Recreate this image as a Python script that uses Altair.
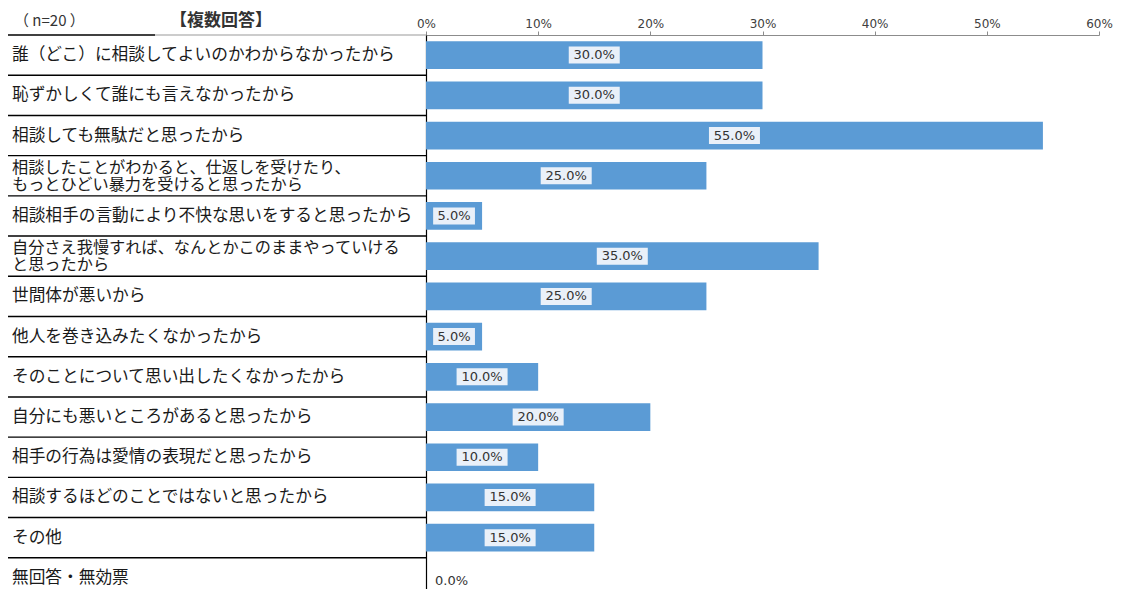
import altair as alt
import pandas as pd

categories = [
    "誰（どこ）に相談してよいのかわからなかったから",
    "恥ずかしくて誰にも言えなかったから",
    "相談しても無駄だと思ったから",
    "相談したことがわかると、仕返しを受けたり、\nもっとひどい暴力を受けると思ったから",
    "相談相手の言動により不快な思いをすると思ったから",
    "自分さえ我慢すれば、なんとかこのままやっていける\nと思ったから",
    "世間体が悪いから",
    "他人を巻き込みたくなかったから",
    "そのことについて思い出したくなかったから",
    "自分にも悪いところがあると思ったから",
    "相手の行為は愛情の表現だと思ったから",
    "相談するほどのことではないと思ったから",
    "その他",
    "無回答・無効票",
]
values = [0.30, 0.30, 0.55, 0.25, 0.05, 0.35, 0.25, 0.05, 0.10, 0.20, 0.10, 0.15, 0.15, 0.0]
tick_values = [0, 0.1, 0.2, 0.3, 0.4, 0.5, 0.6]

df = pd.DataFrame({"cat": categories, "v": values, "idx": list(range(len(categories)))})

BAR = "#5B9BD5"
FONT = "Noto Sans CJK JP"
NUMFONT = "DejaVu Sans"
LEFT = 418

y_enc = alt.Y("cat:N", sort=categories,
              scale=alt.Scale(paddingInner=0, paddingOuter=0, range=[0, 563]),
              axis=alt.Axis(title=None, labels=False, ticks=False, domain=True,
                            domainColor="#000000", domainWidth=1.2))
x_enc = alt.X("v:Q", scale=alt.Scale(domain=[0, 0.6], nice=False),
              axis=alt.Axis(orient="top", values=tick_values, format=".0%", title=None,
                            grid=False, labelFont=NUMFONT, labelFontSize=12,
                            labelColor="#404040", tickSize=4, tickColor="#8c8c8c",
                            domainColor="#8c8c8c", labelPadding=1, labelFlush=False))

base = alt.Chart(df)

bars = base.transform_filter("datum.v > 0").mark_bar(
    color=BAR, height=alt.RelativeBandSize(0.69)
).encode(x=x_enc, y=y_enc)

box_wide = "M-1,-0.333L1,-0.333L1,0.333L-1,0.333Z"
box_narrow = "M-0.82,-0.333L0.82,-0.333L0.82,0.333L-0.82,0.333Z"

boxes = base.transform_filter("datum.v > 0").transform_calculate(
    mid="datum.v / 2"
).mark_point(filled=True, opacity=1, strokeWidth=0, color="#E9F0F9").encode(
    x=alt.X("mid:Q"),
    y=alt.Y("cat:N", sort=categories),
    size=alt.value(2601),
    shape=alt.condition("datum.v < 0.1", alt.value(box_narrow), alt.value(box_wide)),
)

vlabels = base.transform_filter("datum.v > 0").transform_calculate(
    mid="datum.v / 2"
).mark_text(font=NUMFONT, fontSize=13, color="#333333", baseline="middle", align="center").encode(
    x=alt.X("mid:Q"),
    y=alt.Y("cat:N", sort=categories),
    text=alt.Text("v:Q", format=".1%"),
)

zero_labels = base.transform_filter("datum.v == 0").mark_text(
    font=NUMFONT, fontSize=13, color="#333333", baseline="middle", align="left", dx=9, dy=3
).encode(
    x=alt.X("v:Q"),
    y=alt.Y("cat:N", sort=categories),
    text=alt.Text("v:Q", format=".1%"),
)

single_labels = base.transform_filter("indexof(datum.cat, '\\n') < 0").mark_text(
    font=FONT, fontSize=16.7, color="#1a1a1a", align="left", baseline="middle"
).encode(
    x=alt.value(-(LEFT - 4)),
    y=alt.Y("cat:N", sort=categories),
    text="cat:N",
)

multi_labels = base.transform_filter("indexof(datum.cat, '\\n') >= 0").mark_text(
    font=FONT, fontSize=16.2, color="#1a1a1a", align="left", baseline="middle",
    lineBreak="\n", lineHeight=17, dy=-8
).encode(
    x=alt.value(-(LEFT - 4)),
    y=alt.Y("cat:N", sort=categories),
    text="cat:N",
)

seps = base.transform_filter("datum.idx > 0").mark_rule(color="#000000", strokeWidth=1.4).encode(
    y=alt.Y("cat:N", sort=categories, bandPosition=0),
    x=alt.value(-LEFT),
    x2=alt.value(0),
)

one = alt.Data(values=[{"a": 1}])
top_gray = alt.Chart(one).mark_rule(color="#9a9a9a", strokeWidth=1.2).encode(
    x=alt.value(-271), x2=alt.value(0), y=alt.value(0)
)
top_black = alt.Chart(one).mark_rule(color="#000000", strokeWidth=1.4).encode(
    x=alt.value(-LEFT), x2=alt.value(-271), y=alt.value(0)
)

n_text = alt.Chart(one).mark_text(
    font=FONT, fontSize=15, color="#333333", align="left", baseline="middle"
).encode(x=alt.value(-412), y=alt.value(-14), text=alt.value("（ n=20 ）"))

multi_text = alt.Chart(one).mark_text(
    font=FONT, fontSize=17, fontWeight="bold", color="#333333", align="left", baseline="middle"
).encode(x=alt.value(-256), y=alt.value(-14), text=alt.value("【複数回答】"))

chart = alt.layer(
    bars, boxes, vlabels, zero_labels, single_labels, multi_labels, seps,
    top_gray, top_black, n_text, multi_text
).properties(
    width=673, height=554,
    autosize=alt.AutoSizeParams(type="none"),
    padding={"left": LEFT, "top": 27, "right": 14, "bottom": 0},
).configure_view(stroke=None)

chart.save("out.html", embed_options={"renderer": "svg", "actions": False})
